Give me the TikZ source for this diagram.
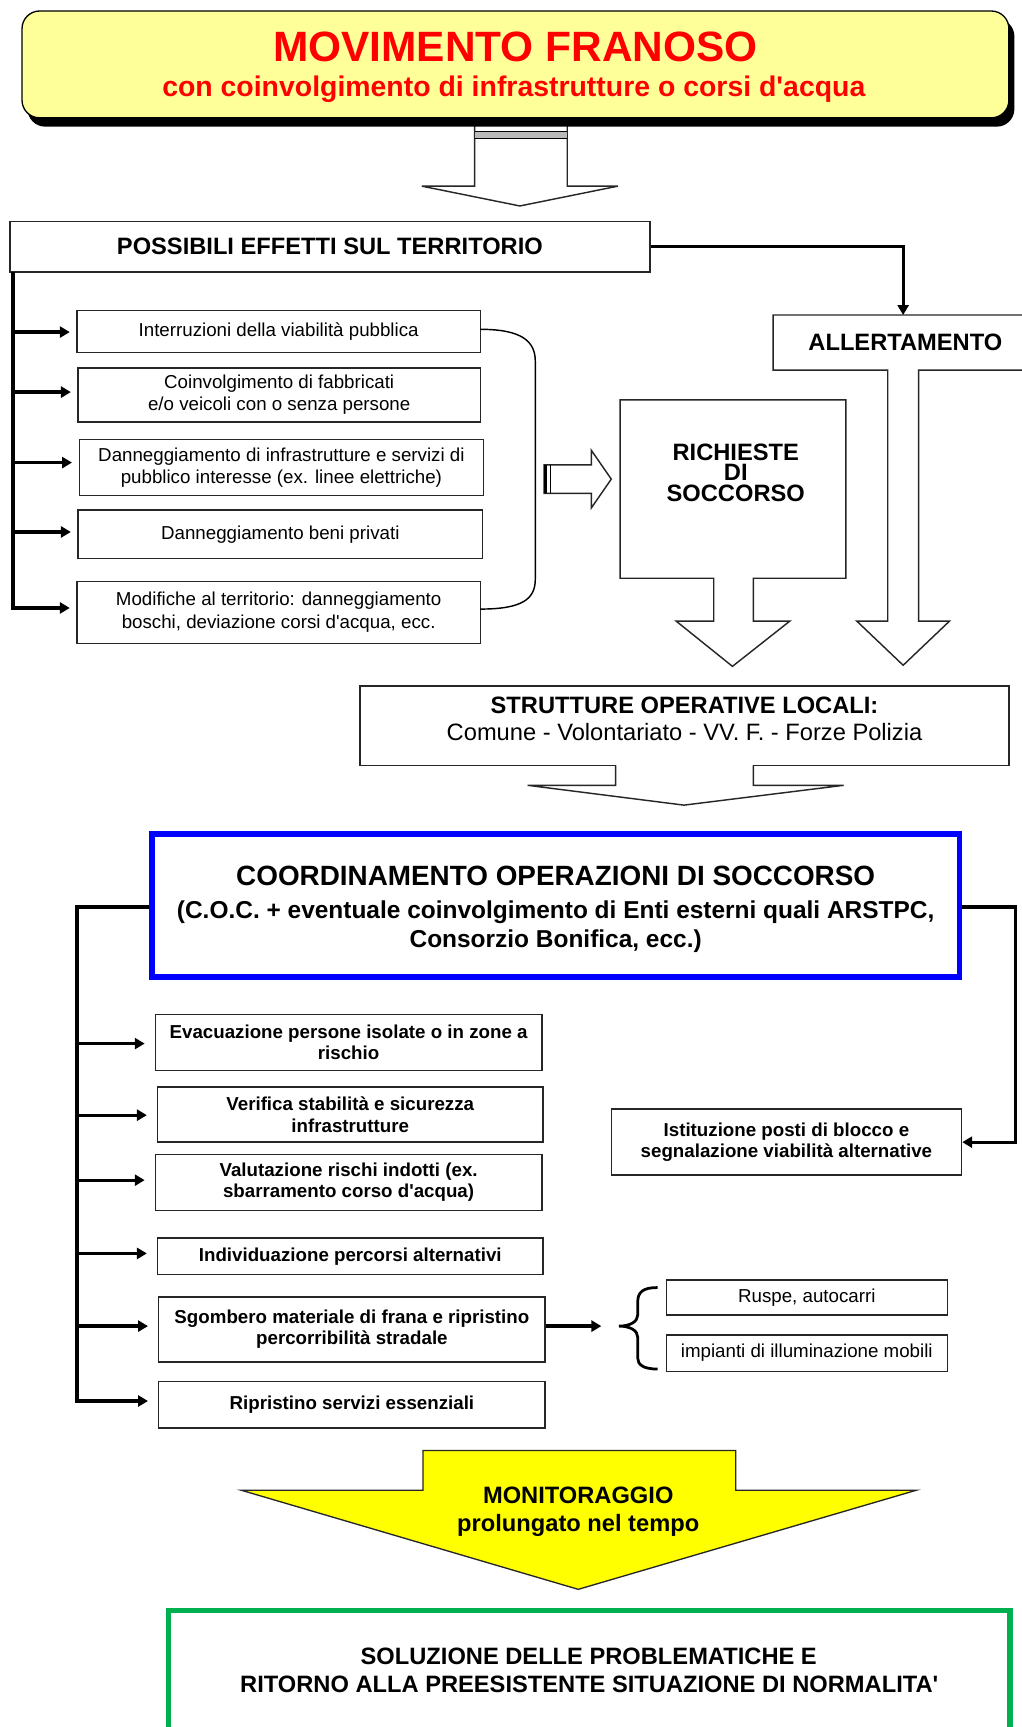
\documentclass[tikz,border=0pt]{standalone}
\usepackage{fontspec}
\setmainfont{Liberation Sans}
\usetikzlibrary{arrows.meta,calc}
\definecolor{titleyellow}{HTML}{FFFF99}
\definecolor{monyellow}{HTML}{FFFF00}
\definecolor{cocblue}{HTML}{0000FF}
\definecolor{solgreen}{HTML}{00B050}
\definecolor{titlered}{HTML}{FF0000}
\begin{document}
\begin{tikzpicture}[x=1pt,y=-1pt,
  box/.style={draw=black!85, line width=1.3pt, fill=white, align=center, inner sep=2pt},
  effbox/.style={box, font=\fontsize{17}{20.5}\selectfont},
  opbox/.style={box, font=\fontsize{17}{19.5}\selectfont\bfseries},
  hdr/.style={font=\fontsize{21.5}{24}\selectfont\bfseries},
  conn/.style={line width=3pt, -{Triangle[length=9pt,width=10pt]}},
  shapeline/.style={draw=black!85, line width=1.3pt},
  lbl/.style={inner sep=0pt, anchor=base},
]
\useasboundingbox (0,0) rectangle (927,1568);
\fill[white] (0,0) rectangle (927,1568);

% ---------- arrow under title
\fill[white] (431,110) -- (431,169) -- (383,169) -- (472,187) -- (561,169) -- (515,169) -- (515,110) -- cycle;
\draw[shapeline] (431,110) -- (431,169) -- (383,169) -- (472,187) -- (561,169) -- (515,169) -- (515,110);
\fill[gray!55] (431,119) rectangle (515,126);
\draw[line width=0.8pt] (431,119) -- (515,119) (431,126) -- (515,126);

% ---------- title
\fill[black, rounded corners=16pt] (25,17) rectangle (921,115);
\node[draw=black, line width=1.2pt, fill=titleyellow, rounded corners=16pt,
      minimum width=896pt, minimum height=97pt, inner sep=0pt] (title) at (468,58.5) {};
\node[lbl, text=titlered, font=\fontsize{38.5}{40}\selectfont\bfseries] (titleA) at (468,56) {MOVIMENTO FRANOSO};
\node[lbl, text=titlered, font=\fontsize{25.8}{28}\selectfont\bfseries] (titleB) at (466.5,88) {con coinvolgimento di infrastrutture o corsi d\textquotesingle acqua};

% ---------- possibili effetti
\node[box, hdr, minimum width=581pt, minimum height=46pt] (poss) at (299.5,224) {POSSIBILI EFFETTI SUL TERRITORIO};

\node[effbox, minimum width=366pt, minimum height=38pt] (b1) at (253,301) {Interruzioni della viabilità pubblica};
\node[effbox, minimum width=365pt, minimum height=49pt] (b2) at (253.5,358.5) {Coinvolgimento di fabbricati\\e/o veicoli con o senza persone};
\node[effbox, minimum width=367pt, minimum height=51pt] (b3) at (255.5,424.5) {Danneggiamento di infrastrutture e servizi di\\pubblico interesse (ex. linee elettriche)};
\node[effbox, minimum width=367pt, minimum height=44pt] (b4) at (254.5,485) {Danneggiamento beni privati};
\node[effbox, minimum width=366pt, minimum height=56pt] (b5) at (253,556) {Modifiche al territorio: danneggiamento\\boschi, deviazione corsi d\textquotesingle acqua, ecc.};

\coordinate (bustop) at (12,247);
\coordinate (bus1) at (12,301.5);
\coordinate (bus2) at (12,356);
\coordinate (bus3) at (12,420);
\coordinate (bus4) at (12,483);
\coordinate (bus5) at (12,552);
\draw[line width=4pt] (bustop) -- (12,554);
\draw[conn, shorten >=6pt] (bus1) -- (bus1 -| b1.west);
\draw[conn, shorten >=6pt] (bus2) -- (bus2 -| b2.west);
\draw[conn, shorten >=6pt] (bus3) -- (bus3 -| b3.west);
\draw[conn, shorten >=6pt] (bus4) -- (bus4 -| b4.west);
\draw[conn, shorten >=6pt] (bus5) -- (bus5 -| b5.west);

% bracket to the right of effects
\draw[line width=1.3pt] (436,299) .. controls (474,299) and (486,310) .. (486,328) -- (486,526)
      .. controls (486,544) and (474,553) .. (436,553);

% small right block arrow
\fill[white] (494,422) -- (537,422) -- (537,409) -- (555,435) -- (537,461) -- (537,448) -- (494,448) -- cycle;
\draw[shapeline] (494,422) -- (537,422) -- (537,409) -- (555,435) -- (537,461) -- (537,448) -- (494,448) -- cycle;
\draw[line width=2.5pt] (495,422) -- (495,448);
\draw[line width=1pt] (500,422) -- (500,448);

% ---------- richieste di soccorso
\draw[shapeline, fill=white] (563,363) -- (768,363) -- (768,525) -- (684,525) -- (684,564) -- (717,564)
      -- (665,605) -- (614,564) -- (648,564) -- (648,525) -- (563,525) -- cycle;
\node[align=center, inner sep=0pt, font=\fontsize{21.5}{18.6}\selectfont\bfseries] (rich) at (668,429) {RICHIESTE\\DI\\SOCCORSO};

% ---------- allertamento
\fill[white] (702,286) rectangle (930,336);
\fill[white] (806,336) rectangle (834,565);
\draw[shapeline] (930,286) -- (702,286) -- (702,336) -- (806,336) -- (806,564) -- (778,564)
      -- (820,604) -- (862,564) -- (834,564) -- (834,336) -- (930,336);
\node[lbl, hdr] (allert) at (822,318) {ALLERTAMENTO};
\coordinate (alltop) at (820,286);
\draw[conn] (poss.east) -| (alltop);

% ---------- strutture operative locali
\node[box, minimum width=589pt, minimum height=72pt] (strut) at (621.5,659) {};
\node[lbl, hdr] (strutA) at (621.5,647.5) {STRUTTURE OPERATIVE LOCALI:};
\node[lbl, font=\fontsize{21.5}{24}\selectfont] (strutB) at (621.5,672) {Comune - Volontariato - VV. F. - Forze Polizia};
\fill[white] (559.7,692) rectangle (683.3,698);
\draw[shapeline] (559,695) -- (559,713) -- (479,713) -- (621,731) -- (766,713) -- (684,713) -- (684,695);

% ---------- coordinamento
\node[draw=cocblue, line width=5pt, fill=white, minimum width=733pt, minimum height=130pt, inner sep=0pt] (coc) at (504.5,822) {};
\node[lbl, font=\fontsize{25.3}{28}\selectfont\bfseries] (cocA) at (504.5,804) {COORDINAMENTO OPERAZIONI DI SOCCORSO};
\node[lbl, font=\fontsize{22.2}{26}\selectfont\bfseries] (cocB) at (504.5,834) {(C.O.C. + eventuale coinvolgimento di Enti esterni quali ARSTPC,};
\node[lbl, font=\fontsize{22.2}{26}\selectfont\bfseries] (cocC) at (504.5,860) {Consorzio Bonifica, ecc.)};

\node[opbox, minimum width=351pt, minimum height=51pt] (o1) at (316.5,946.5) {Evacuazione persone isolate o in zone a\\rischio};
\node[opbox, minimum width=350pt, minimum height=50pt] (o2) at (318,1012) {Verifica stabilità e sicurezza\\infrastrutture};
\node[opbox, minimum width=351pt, minimum height=51pt] (o3) at (316.5,1073.5) {Valutazione rischi indotti (ex.\\sbarramento corso d\textquotesingle acqua)};
\node[opbox, minimum width=350pt, minimum height=33pt] (o4) at (318,1140.5) {Individuazione percorsi alternativi};
\node[opbox, minimum width=351pt, minimum height=59pt] (o5) at (319.5,1207) {Sgombero materiale di frana e ripristino\\percorribilità stradale};
\node[opbox, minimum width=351pt, minimum height=42pt] (o6) at (319.5,1275.5) {Ripristino servizi essenziali};

\node[opbox, minimum width=318pt, minimum height=60pt] (ist) at (714,1037) {Istituzione posti di blocco e\\segnalazione viabilità alternative};

\coordinate (lb0) at (70,823.5);
\coordinate (lb1) at (70,947.5);
\coordinate (lb2) at (70,1012.5);
\coordinate (lb3) at (70,1071.5);
\coordinate (lb4) at (70,1138);
\coordinate (lb5) at (70,1204);
\coordinate (lb6) at (70,1272);
\draw[line width=3pt] (coc.west |- lb0) -- (lb0) -- (70,1273.5);
\draw[conn, shorten >=9pt] (lb1) -- (lb1 -| o1.west);
\draw[conn, shorten >=9pt] (lb2) -- (lb2 -| o2.west);
\draw[conn, shorten >=9pt] (lb3) -- (lb3 -| o3.west);
\draw[conn, shorten >=9pt] (lb4) -- (lb4 -| o4.west);
\draw[conn, shorten >=9pt] (lb5) -- (lb5 -| o5.west);
\draw[conn, shorten >=9pt] (lb6) -- (lb6 -| o6.west);

\coordinate (rb0) at (922,823.5);
\draw[conn] (coc.east |- rb0) -- (rb0) |- (ist.east);

% ---------- sgombero -> resources
\node[box, font=\fontsize{17}{20}\selectfont, minimum width=255pt, minimum height=32pt] (rusp) at (732.5,1178) {Ruspe, autocarri};
\node[box, font=\fontsize{17}{20}\selectfont, minimum width=255pt, minimum height=33pt] (imp) at (732.5,1228.5) {impianti di illuminazione mobili};
\coordinate (bracetip) at (546,1204);
\draw[conn] (o5.east |- bracetip) -- (bracetip);
\draw[line width=2.5pt] (597,1169) .. controls (584,1169) and (579,1173) .. (579,1182) -- (579,1194)
      .. controls (579,1200) and (572,1204) .. (562,1204)
      .. controls (572,1204) and (579,1208) .. (579,1214) -- (579,1233)
      .. controls (579,1239) and (584,1243) .. (597,1243);

% ---------- monitoraggio
\draw[line width=1.2pt, draw=black!85, fill=monyellow] (384,1317) -- (668,1317) -- (668,1353) -- (832,1353)
      -- (525,1443) -- (219,1353) -- (384,1353) -- cycle;
\node[lbl, hdr] (monA) at (525,1365.5) {MONITORAGGIO};
\node[lbl, hdr] (monB) at (525,1390.5) {prolungato nel tempo};

% ---------- soluzione
\node[draw=solgreen, line width=5pt, fill=white, minimum width=764pt, minimum height=140pt, inner sep=0pt] (sol) at (535,1532) {};
\node[lbl, hdr] (solA) at (534.5,1511.5) {SOLUZIONE DELLE PROBLEMATICHE E};
\node[lbl, hdr] (solB) at (535,1536.5) {RITORNO ALLA PREESISTENTE SITUAZIONE DI NORMALITA\textquotesingle};
\end{tikzpicture}
\end{document}
